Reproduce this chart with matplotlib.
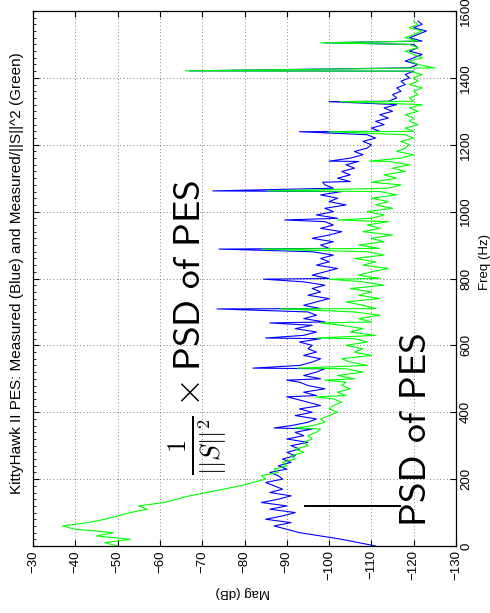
import numpy as np
import matplotlib
matplotlib.use("Agg")
import matplotlib.pyplot as plt
from matplotlib.ticker import MultipleLocator

plt.rcParams['font.family'] = ['Liberation Sans', 'DejaVu Sans']
plt.rcParams['mathtext.fontset'] = 'cm'

freq = np.arange(0, 1580, 10)

blue_mag = [
    -111, -107, -103, -98, -93, -90, -87, -91, -85, -89,
    -92, -86, -90, -84, -88, -91, -86, -89, -87, -85,
    -89, -88, -86, -90, -88, -91, -89, -92, -90, -93,
    -91, -95, -90, -94, -92, -96, -91, -95, -97, -92,
    -96, -93, -98, -95, -92, -97, -94, -99, -95, -93,
    -98, -94, -97, -99, -93, -96, -98, -94, -97, -95,
    -96, -93, -98, -94, -97, -92, -96, -99, -94, -97,
    -95, -98, -94, -97, -100, -95, -98, -96, -99, -94,
    -100, -96, -99, -102, -97, -100, -98, -101, -96, -100,
    -98, -101, -96, -100, -103, -98, -101, -99, -102, -97,
    -101, -99, -104, -100, -102, -98, -103, -101, -99, -105,
    -102, -105, -103, -106, -104, -107, -105, -108, -106, -109,
    -110, -108, -111, -109, -112, -110, -113, -111, -114, -112,
    -115, -113, -116, -114, -116, -115, -117, -116, -118, -117,
    -119, -118, -120, -119, -121, -118, -120, -122, -119, -121,
    -120, -122, -119, -121, -123, -120, -122, -121,
]

green_mag = [
    -50, -47, -53, -45, -49, -40, -37, -43, -47, -50,
    -53, -57, -55, -61, -64, -67, -71, -75, -79, -82,
    -85, -84, -88, -87, -90, -89, -92, -91, -94, -92,
    -95, -94, -96, -95, -97, -98, -96, -99, -98, -100,
    -102, -100, -101, -103, -101, -104, -102, -105, -103, -104,
    -106, -102, -108, -104, -109, -105, -103, -110, -106, -108,
    -104, -109, -106, -111, -105, -108, -103, -110, -107, -112,
    -106, -111, -108, -104, -112, -107, -110, -105, -113, -108,
    -112, -107, -110, -114, -108, -111, -106, -113, -109, -112,
    -107, -113, -110, -115, -108, -112, -109, -114, -110, -113,
    -109, -115, -111, -114, -110, -116, -112, -114, -117, -111,
    -116, -113, -118, -115, -119, -114, -117, -120, -116, -118,
    -119, -117, -120, -118, -120, -118, -121, -119, -120, -118,
    -121, -119, -122, -120, -119, -121, -120, -122, -119, -121,
    -120, -122, -119, -125, -121, -119, -122, -120, -118, -121,
    -119, -121, -118, -120, -122, -119, -121, -120,
]

# narrow spikes (Hz) and their peak values in each series
spike_freq = [353, 446, 496, 532, 622, 667, 709, 798, 888, 975,
              1062, 1088, 1151, 1239, 1329, 1421, 1505]
blue_spike = [-87, -90, -90, -82, -85, -86, -73.5, -84.5, -74, -89.5,
              -72.5, -98.5, -100, -93, -100, -67, -99]
green_spike = [-92, -97, -99, -92.5, -97, -98, -88.5, -100, -84, -102,
               -85.5, -110, -109.5, -100, -102.5, -66, -98]


def with_spikes(base, peaks):
    f = np.concatenate([freq, spike_freq])
    m = np.concatenate([base, peaks])
    order = np.argsort(f, kind="stable")
    return f[order], m[order]


fig = plt.figure(figsize=(4.9, 6.13), dpi=100)
ax = fig.add_axes([33 / 490, 1 - 546 / 613, 423 / 490, 535 / 613])

fb, mb = with_spikes(blue_mag, blue_spike)
fg, mg = with_spikes(green_mag, green_spike)
ax.plot(mb, fb, color=(0, 0, 1), lw=0.8)
ax.plot(mg, fg, color=(0, 1, 0), lw=0.8)

ax.set_xlim(-30, -130)
ax.set_ylim(0, 1600)
ax.set_xticks(np.arange(-30, -131, -10))
ax.set_yticks(np.arange(0, 1601, 200))
ax.yaxis.set_minor_locator(MultipleLocator(20))
ax.grid(True, which="major", linestyle=(0, (1, 3)), color="0.35", lw=0.6)

ax.yaxis.tick_right()
ax.tick_params(which="major", direction="in", length=4, width=0.8,
               top=True, bottom=True, left=True, right=True,
               labelsize=9.5, pad=3)
ax.tick_params(which="minor", direction="in", length=2.5, width=0.6,
               left=True, right=False)
for lab in ax.get_xticklabels():
    lab.set_rotation(90)
for lab in ax.get_yticklabels():
    lab.set_rotation(90)
    lab.set_va("center")
for s in ax.spines.values():
    s.set_linewidth(0.9)

ax.yaxis.set_label_position("right")
ax.set_ylabel("Freq (Hz)", fontsize=9.5, rotation=90, labelpad=4)
ax.yaxis.set_label_coords(1.055, 0.53)
fig.text(243 / 490, 1 - 592 / 613, "Mag (dB)", rotation=180,
         ha="center", va="center", fontsize=9.5)
fig.text(17 / 490, 1 - 273 / 613,
         "KittyHawk II PES: Measured (Blue) and Measured/||S||^2 (Green)",
         rotation=90, ha="center", va="center", fontsize=11)

# annotations
ax.text(-122.9, 351, "PSD of PES", family="cmss10", fontsize=27,
        rotation=90, rotation_mode="anchor", ha="center", va="baseline")
ax.text(-69.5, 653, r"$\frac{1}{||S||^2}\times\mathsf{PSD\ of\ PES}$",
        fontsize=27, rotation=90, rotation_mode="anchor",
        ha="center", va="baseline")
ax.plot([-94.3, -116.8], [120, 120], color="k", lw=1.4)

fig.savefig("out.png", dpi=100)
